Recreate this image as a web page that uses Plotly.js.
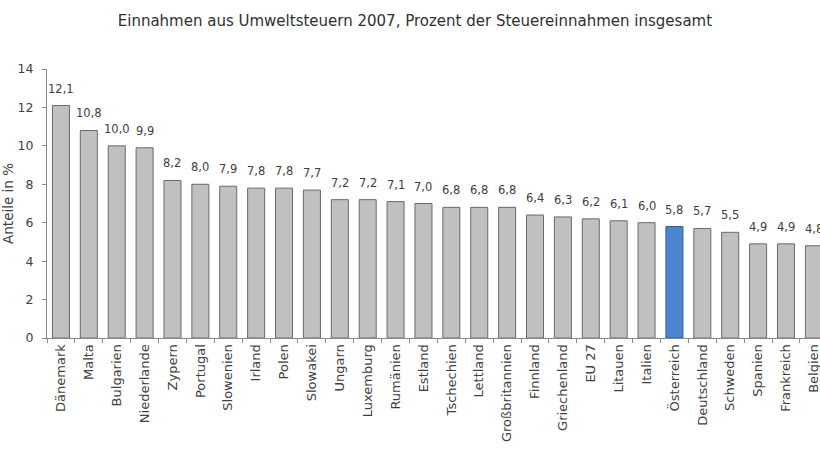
<!DOCTYPE html>
<html>
<head>
<meta charset="utf-8">
<script src="https://cdn.plot.ly/plotly-3.0.1.min.js"></script>
<style>html,body{margin:0;padding:0;background:#fff;}#chart{width:820px;height:451px;}</style>
</head>
<body>
<div id="chart"></div>
<script>
var categories = ["Dänemark","Malta","Bulgarien","Niederlande","Zypern","Portugal","Slowenien","Irland","Polen","Slowakei","Ungarn","Luxemburg","Rumänien","Estland","Tschechien","Lettland","Großbritannien","Finnland","Griechenland","EU 27","Litauen","Italien","Österreich","Deutschland","Schweden","Spanien","Frankreich","Belgien"];
var values = [12.1,10.8,10.0,9.9,8.2,8.0,7.9,7.8,7.8,7.7,7.2,7.2,7.1,7.0,6.8,6.8,6.8,6.4,6.3,6.2,6.1,6.0,5.8,5.7,5.5,4.9,4.9,4.8];
var highlight = "Österreich";
var yTicks = [0,2,4,6,8,10,12,14];

var FONT = "DejaVu Sans, sans-serif";
var colors = categories.map(function(c){ return c === highlight ? "#4a86d2" : "#c0c0c0"; });
var lineColors = categories.map(function(c){ return c === highlight ? "#2f5a90" : "#6a6a6a"; });

var trace = {
  type: "bar",
  x: categories,
  y: values,
  marker: {color: colors, line: {color: lineColors, width: 1}},
  hoverinfo: "none"
};

var annotations = categories.map(function(c, i){
  return {
    x: c, y: values[i], xref: "x", yref: "y",
    text: values[i].toFixed(1).replace(".", ","),
    showarrow: false, yanchor: "bottom", yshift: 8,
    font: {family: FONT, size: 11.5, color: "#404040"}
  };
});

var layout = {
  width: 820, height: 451,
  margin: {l: 46.5, r: 0, t: 69, b: 112.5, pad: 0},
  paper_bgcolor: "#ffffff", plot_bgcolor: "#ffffff",
  separators: ",.",
  bargap: 0.39,
  showlegend: false,
  title: {
    text: "Einnahmen aus Umweltsteuern 2007, Prozent der Steuereinnahmen insgesamt",
    font: {family: FONT, size: 15, color: "#303030"},
    x: 0.506, xanchor: "center", y: 0.955, yanchor: "middle"
  },
  xaxis: {
    type: "category",
    range: [-0.5, 27.22],
    showline: true, linecolor: "#8a8a8a", linewidth: 1,
    ticks: "outside", tickson: "boundaries", ticklen: 4, tickcolor: "#8a8a8a",
    tickangle: -90,
    tickfont: {family: FONT, size: 13, color: "#404040"},
    showgrid: false, zeroline: false, fixedrange: true
  },
  yaxis: {
    range: [0, 14],
    tickvals: yTicks,
    ticktext: yTicks.map(String),
    showline: true, linecolor: "#8a8a8a", linewidth: 1,
    ticks: "outside", ticklen: 4, tickcolor: "#8a8a8a",
    ticklabelstandoff: 6,
    tickfont: {family: FONT, size: 12.5, color: "#404040"},
    showgrid: false, zeroline: false, fixedrange: true,
    title: {text: "Anteile in %", font: {family: FONT, size: 13.5, color: "#404040"}, standoff: 0}
  },
  annotations: annotations
};

Plotly.newPlot("chart", [trace], layout, {displayModeBar: false, staticPlot: true});
</script>
</body>
</html>
